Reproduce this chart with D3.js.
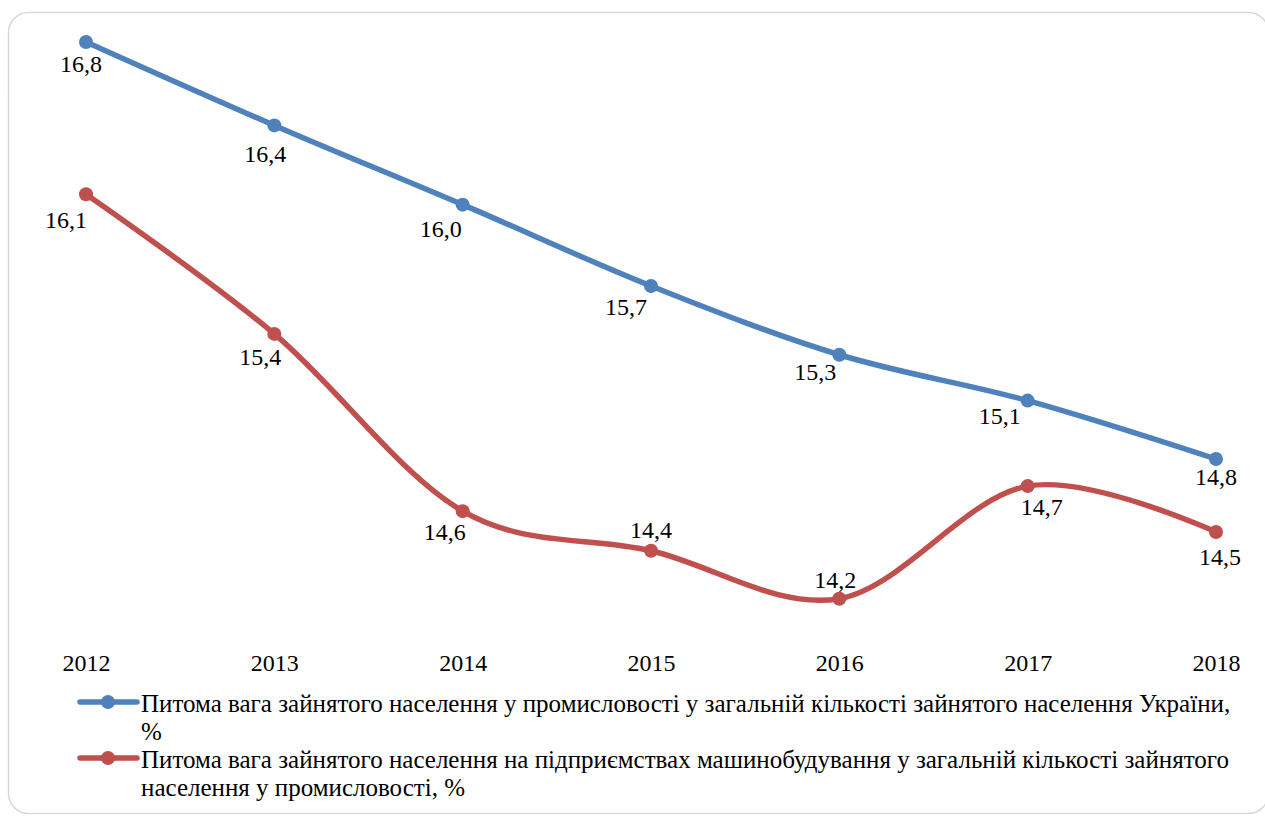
<!DOCTYPE html>
<html>
<head>
<meta charset="utf-8">
<script src="https://cdn.jsdelivr.net/npm/d3@7"></script>
<style>
  body { margin: 0; background: #fff; }
</style>
</head>
<body>
<svg id="chart" width="1265" height="816"></svg>
<script>
// data
var years = ['2012','2013','2014','2015','2016','2017','2018'];
var industryShare = [16.8, 16.4, 16.02, 15.63, 15.3, 15.08, 14.8];
var machineShare  = [16.07, 15.4, 14.55, 14.36, 14.13, 14.67, 14.45];
var industryLabels = ['16,8','16,4','16,0','15,7','15,3','15,1','14,8'];
var machineLabels  = ['16,1','15,4','14,6','14,4','14,2','14,7','14,5'];
var seriesNames = [
  ['Питома вага зайнятого населення у промисловості у загальній кількості зайнятого населення України,', '%'],
  ['Питома вага зайнятого населення на підприємствах машинобудування у загальній кількості зайнятого', 'населення у промисловості, %']
];
var colors = ['#4f81bd', '#c0504d'];

var FONT = '"Liberation Serif", serif';

// label nudges (layout only)
var industryOff = [[-5,22],[-9,29],[-22,24],[-25,21],[-24,17],[-28,15],[0,18]];
var machineOff  = [[-20,26],[-14,23],[-18,21],[0,-21],[-4,-19],[14,21],[4,25]];

var svg = d3.select('#chart');

svg.append('rect')
  .attr('x', 8.5).attr('y', 12.5)
  .attr('width', 1260).attr('height', 801)
  .attr('rx', 20).attr('ry', 20)
  .attr('fill', '#fff')
  .attr('stroke', '#d9d9d9')
  .attr('stroke-width', 1.5);

var x = d3.scalePoint().domain(years).range([86, 1216]);
var y = d3.scaleLinear().domain([14.8, 16.8]).range([459, 42]);

var line = d3.line()
  .x(function(d,i){ return x(years[i]); })
  .y(function(d){ return y(d); })
  .curve(d3.curveCardinal.tension(0));

var series = [
  {vals: industryShare, labels: industryLabels, off: industryOff, color: colors[0]},
  {vals: machineShare, labels: machineLabels, off: machineOff, color: colors[1]}
];

series.forEach(function(s, k){
  svg.append('path')
    .datum(s.vals)
    .attr('d', line)
    .attr('fill', 'none')
    .attr('stroke', s.color)
    .attr('stroke-width', 5.5)
    .attr('stroke-linecap', 'round');

  svg.selectAll('.dot' + k).data(s.vals).enter()
    .append('circle')
    .attr('class', 'dot' + k)
    .attr('cx', function(d,i){ return x(years[i]); })
    .attr('cy', function(d){ return y(d); })
    .attr('r', 7)
    .attr('fill', s.color);

  svg.selectAll('.lbl' + k).data(s.vals).enter()
    .append('text')
    .attr('class', 'lbl' + k)
    .attr('x', function(d,i){ return x(years[i]) + s.off[i][0]; })
    .attr('y', function(d,i){ return y(d) + s.off[i][1]; })
    .attr('text-anchor', 'middle')
    .attr('dominant-baseline', 'central')
    .style('font-family', FONT)
    .style('font-size', '24px')
    .text(function(d,i){ return s.labels[i]; });
});

// x axis labels
var xAxis = d3.axisBottom(x).tickSize(0).tickPadding(0);
var gx = svg.append('g').attr('transform', 'translate(0,654)').call(xAxis);
gx.select('.domain').remove();
gx.selectAll('text')
  .attr('fill', '#000')
  .style('font-family', FONT)
  .style('font-size', '24px');

// legend
var legend = svg.append('g');
seriesNames.forEach(function(name, k){
  var ly = 703 + k * 56;
  legend.append('line')
    .attr('x1', 80).attr('x2', 137)
    .attr('y1', ly - 1).attr('y2', ly - 1)
    .attr('stroke', colors[k]).attr('stroke-width', 5.5)
    .attr('stroke-linecap', 'round');
  legend.append('circle')
    .attr('cx', 108).attr('cy', ly - 1).attr('r', 7)
    .attr('fill', colors[k]);
  var t = legend.append('text')
    .attr('x', 141).attr('y', ly)
    .attr('dominant-baseline', 'central')
    .style('font-family', FONT)
    .style('font-size', '25px');
  name.forEach(function(part, j){
    t.append('tspan')
      .attr('x', 141)
      .attr('dy', j === 0 ? 0 : 28)
      .text(part);
  });
});
</script>
</body>
</html>
